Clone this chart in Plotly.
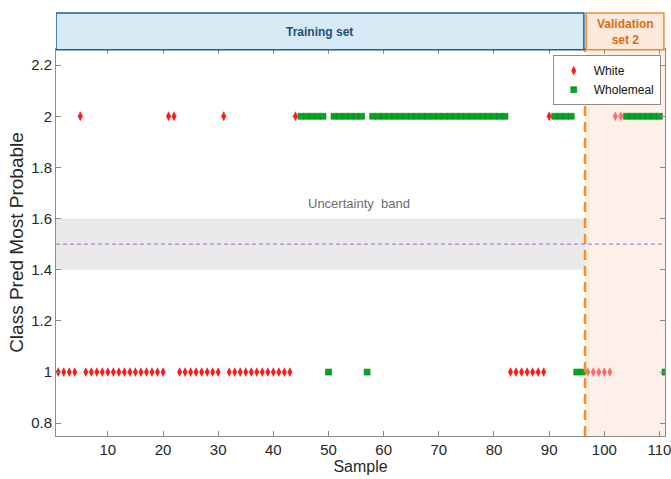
import plotly.graph_objects as go

# White samples (true class White) and their predicted class
white_train_x = [1, 2, 3, 4, 5, 6, 7, 8, 9, 10, 11, 12, 13, 14, 15, 16, 17, 18, 19, 20,
                 21, 22, 23, 24, 25, 26, 27, 28, 29, 30, 31, 32, 33, 34, 35, 36, 37, 38,
                 39, 40, 41, 42, 43, 44, 83, 84, 85, 86, 87, 88, 89, 90]
white_train_y = [1, 1, 1, 1, 2, 1, 1, 1, 1, 1, 1, 1, 1, 1, 1, 1, 1, 1, 1, 1,
                 2, 2, 1, 1, 1, 1, 1, 1, 1, 1, 2, 1, 1, 1, 1, 1, 1, 1,
                 1, 1, 1, 1, 1, 2, 1, 1, 1, 1, 1, 1, 1, 2]
white_val_x = [97, 98, 99, 100, 101, 102, 103]
white_val_y = [1, 1, 1, 1, 1, 2, 2]

# Wholemeal samples and their predicted class
wholemeal_x = [45, 46, 47, 48, 49, 50, 51, 52, 53, 54, 55, 56, 57, 58, 59, 60, 61, 62,
               63, 64, 65, 66, 67, 68, 69, 70, 71, 72, 73, 74, 75, 76, 77, 78, 79, 80,
               81, 82, 91, 92, 93, 94, 95, 96, 104, 105, 106, 107, 108, 109, 110, 111]
wholemeal_y = [2, 2, 2, 2, 2, 1, 2, 2, 2, 2, 2, 2, 1, 2, 2, 2, 2, 2,
               2, 2, 2, 2, 2, 2, 2, 2, 2, 2, 2, 2, 2, 2, 2, 2, 2, 2,
               2, 2, 2, 2, 2, 2, 1, 1, 2, 2, 2, 2, 2, 2, 2, 1]

x_ticks = [10, 20, 30, 40, 50, 60, 70, 80, 90, 100, 110]
y_ticks = [0.8, 1.0, 1.2, 1.4, 1.6, 1.8, 2.0, 2.2]
y_tick_labels = ["0.8", "1", "1.2", "1.4", "1.6", "1.8", "2", "2.2"]

split_x = 96.5
x_range = [0.6, 111.0]
y_range = [0.75, 2.263]
band = [1.4, 1.6]
threshold = 1.5

FONT = "Liberation Sans, Arial, sans-serif"

fig = go.Figure()

fig.add_trace(go.Scatter(
    x=white_train_x, y=white_train_y, mode="markers", name="White",
    marker=dict(symbol="diamond-tall", size=7, color="#ff1a1a",
                line=dict(width=0)),
))
fig.add_trace(go.Scatter(
    x=wholemeal_x, y=wholemeal_y, mode="markers", name="Wholemeal",
    marker=dict(symbol="square", size=6, color="#00a61e",
                line=dict(width=0.6, color="#14802a")),
))
fig.add_trace(go.Scatter(
    x=white_val_x, y=white_val_y, mode="markers", name="White", showlegend=False,
    marker=dict(symbol="diamond-tall", size=7, color="#ff6b6b",
                line=dict(width=0)),
))

shapes = [
    # uncertainty band
    dict(type="rect", xref="paper", yref="y", x0=0, x1=1, y0=band[0], y1=band[1],
         fillcolor="#e9e9e9", line=dict(width=0), layer="below"),
    # validation shading
    dict(type="rect", xref="x", yref="paper", x0=split_x, x1=x_range[1], y0=0, y1=1,
         fillcolor="#fdf0e9", line=dict(width=0), layer="below"),
    # threshold line
    dict(type="line", xref="paper", yref="y", x0=0, x1=1, y0=threshold, y1=threshold,
         line=dict(color="#b97fd0", width=1.2, dash="4px,3px"), layer="below"),
    # split line
    dict(type="line", xref="x", yref="paper", x0=split_x, x1=split_x, y0=0, y1=1,
         line=dict(color="#f7901e", width=2.5, dash="10px,6px")),
    # header boxes
    dict(type="rect", xref="x", yref="paper", x0=x_range[0], x1=96.3, y0=0.998, y1=1.093,
         fillcolor="#d5eaf5", line=dict(color="#1d5d8f", width=1.5)),
    dict(type="rect", xref="x", yref="paper", x0=96.7, x1=110.8, y0=0.998, y1=1.093,
         fillcolor="#fdeadd", line=dict(color="#f28a2a", width=1.5)),
]

annotations = [
    dict(x=(x_range[0] + 96.3) / 2, y=1.045, xref="x", yref="paper",
         xanchor="center", yanchor="middle",
         text="<b>Training set</b>", showarrow=False,
         font=dict(family=FONT, size=12, color="#1d4f80")),
    dict(x=(96.7 + 110.8) / 2, y=1.045, xref="x", yref="paper",
         xanchor="center", yanchor="middle",
         text="<b>Validation<br>set 2</b>", showarrow=False,
         font=dict(family=FONT, size=12, color="#e06a12")),
    dict(x=55.6, y=1.66, xref="x", yref="y", text="Uncertainty  band",
         showarrow=False, font=dict(family=FONT, size=13, color="#6b6b6b")),
]

axis_common = dict(
    showline=True, linecolor="#8c8c8c", linewidth=1, mirror="ticks",
    ticks="inside", ticklen=5, tickcolor="#8c8c8c", showgrid=False,
    zeroline=False, automargin=False, ticklabeloverflow="allow",
    tickfont=dict(family=FONT, size=15, color="#262626"),
)

fig.update_layout(
    width=671, height=479,
    margin=dict(l=56, r=6, t=49, b=43, autoexpand=False),
    paper_bgcolor="white", plot_bgcolor="white",
    shapes=shapes, annotations=annotations,
    showlegend=True,
    legend=dict(x=0.993, y=0.984, xanchor="right", yanchor="top",
                bgcolor="white", bordercolor="#8c8c8c", borderwidth=1,
                font=dict(family=FONT, size=12, color="#111111"),
                tracegroupgap=0, itemwidth=30),
    xaxis=dict(range=x_range, tickvals=x_ticks,
               title=dict(text="Sample", standoff=0,
                          font=dict(family=FONT, size=16, color="#262626")),
               **axis_common),
    yaxis=dict(range=y_range, tickvals=y_ticks, ticktext=y_tick_labels,
               title=dict(text="Class Pred Most Probable", standoff=2,
                          font=dict(family=FONT, size=19, color="#262626")),
               **axis_common),
)

fig.write_html("out.html", config={"displayModeBar": False},
               post_script="document.body.style.margin='0';document.body.style.overflow='hidden';")
